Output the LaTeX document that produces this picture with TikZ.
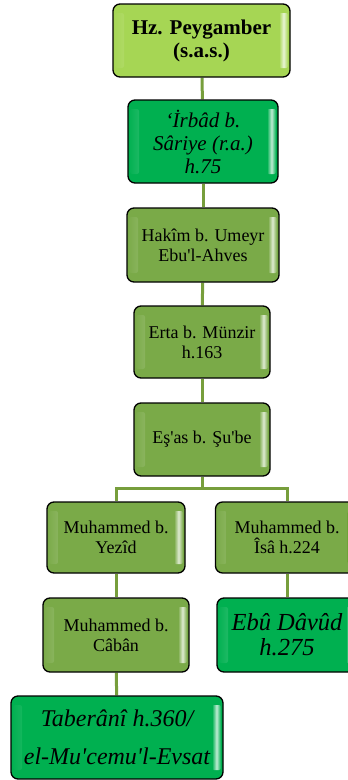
\documentclass[tikz,border=0pt]{standalone}
\usepackage{fontspec}
\setmainfont{Liberation Serif}[Ligatures=TeXOff]
\usetikzlibrary{calc,backgrounds}
\definecolor{limeg}{RGB}{166,214,84}
\definecolor{midg}{RGB}{122,170,72}
\definecolor{brightg}{RGB}{0,176,80}
\definecolor{lineg}{RGB}{119,158,60}
\tikzset{
  bx/.style={draw=black, line width=1.3pt, rounded corners=7pt, fill=#1, inner sep=0pt, align=center,
    path picture={
      \shade[rounded corners=2pt, left color=#1, right color=#1, middle color=#1!25!white]
        ([xshift=2pt,yshift=9pt]path picture bounding box.south west) rectangle
        ([xshift=11pt,yshift=-9pt]path picture bounding box.north west);
      \shade[rounded corners=2pt, left color=#1, right color=#1, middle color=#1!25!white]
        ([xshift=-11pt,yshift=9pt]path picture bounding box.south east) rectangle
        ([xshift=-2pt,yshift=-9pt]path picture bounding box.north east);
    }},
  conn/.style={draw=lineg, line width=3pt},
  regtxt/.style={font=\fontsize{18}{20}\selectfont},
}
\begin{document}
\begin{tikzpicture}[x=1pt,y=-1pt]
\useasboundingbox (0,0) rectangle (348,780);
\node[bx=limeg, minimum width=177pt, minimum height=73pt, font=\fontsize{21}{23}\selectfont\bfseries] (n1) at (201.5,40.5) {Hz. Peygamber\\(s.a.s.)};
\node[bx=brightg, minimum width=150pt, minimum height=83pt, font=\fontsize{21}{23}\selectfont\itshape] (n2) at (203,141.5) {\raisebox{0pt}[\height][\depth]{}‘İrbâd b.\\Sâriye (r.a.)\\h.75};
\node[bx=midg, minimum width=152pt, minimum height=74pt, regtxt] (n3) at (203,245) {Hakîm b. Umeyr\\Ebu'l-Ahves};
\node[bx=midg, minimum width=136pt, minimum height=72pt, regtxt] (n4) at (202,342) {Erta b. Münzir\\h.163};
\node[bx=midg, minimum width=136pt, minimum height=73pt, regtxt] (n5) at (202,439.5) {Eş'as b. Şu'be};
\node[bx=midg, minimum width=138pt, minimum height=71pt, regtxt] (n6) at (116,537.5) {Muhammed b.\\Yezîd};
\node[bx=midg, minimum width=143pt, minimum height=71pt, regtxt] (n7) at (287,537.5) {Muhammed b.\\Îsâ h.224};
\node[bx=midg, minimum width=146pt, minimum height=74pt, regtxt] (n8) at (116,635) {Muhammed b.\\Câbân};
\node[bx=brightg, minimum width=140pt, minimum height=74pt, font=\fontsize{24.5}{25}\selectfont\itshape] (n9) at (287,635) {Ebû Dâvûd\\h.275};
\node[bx=brightg, minimum width=212pt, minimum height=83pt, font=\fontsize{24}{38}\selectfont\itshape] (n10) at (117,737.5) {Taberânî h.360/\\el-Mu'cemu'l-Evsat};
\begin{scope}[on background layer]
  \draw[conn] (n1) -- (n2);
  \draw[conn] (n2) -- (n3);
  \draw[conn] (n3) -- (n4);
  \draw[conn] (n4) -- (n5);
  \coordinate (j) at ($(n5.south)+(0,12)$);
  \draw[conn] (n5.south) -- (j);
  \draw[conn] (j) -| (n6.north);
  \draw[conn] (j) -| (n7.north);
  \draw[conn] (n6) -- (n8);
  \draw[conn] (n8) -- (n10);
  \draw[conn] (n7) -- (n9);
\end{scope}
\end{tikzpicture}
\end{document}
